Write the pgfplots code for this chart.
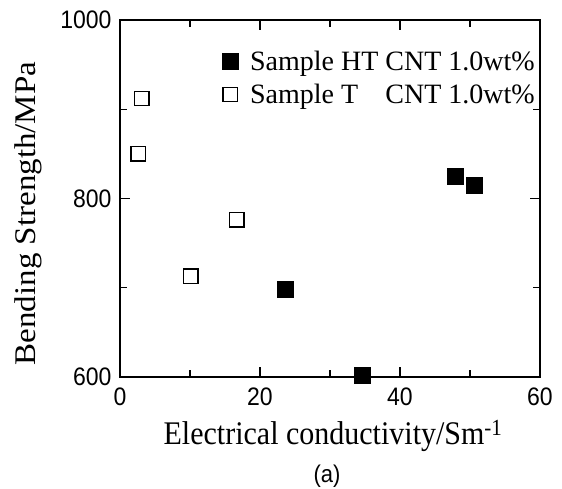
\documentclass[border=0pt]{standalone}
\usepackage{pgfplots}
\pgfplotsset{compat=1.18}
\usepackage{fontspec}
\setmainfont{Liberation Serif}
\newfontfamily\arial{Liberation Sans}
\begin{document}
\begin{tikzpicture}
\begin{axis}[
  scale only axis,
  width=420pt, height=357pt,
  xmin=0, xmax=60, ymin=600, ymax=1000,
  xtick={0,20,40,60}, ytick={600,800,1000},
  minor xtick={10,30,50}, minor ytick={700,900},
  tick align=inside,
  major tick length=10pt, minor tick length=7pt,
  axis line style={line width=1.3pt},
  every tick/.style={line width=1.2pt, black},
  /pgf/number format/assume math mode=true,
  /pgf/number format/1000 sep={},
  ticklabel style={font=\arial\fontsize{23}{23}\selectfont, yscale=1.1},
  xticklabel style={yshift=-6pt},
  yticklabel style={xshift=-5pt},
  xlabel={Electrical conductivity/Sm\textsuperscript{-1}},
  ylabel={Bending Strength/MPa},
  xlabel style={font=\fontsize{30}{31}\selectfont, at={(axis description cs:0.5,0)},
    anchor=base, yshift=-68pt, xshift=3pt, yscale=1.1},
  ylabel style={font=\fontsize{30}{31}\selectfont, at={(axis description cs:0,0.5)},
    anchor=base, xshift=-15pt, yshift=84pt, xscale=1.1},
  legend style={draw=none, fill=none, at={(1,0.925)}, anchor=north east,
    font=\fontsize{28}{29}\selectfont, row sep=8pt,
    /tikz/every odd column/.append style={column sep=10pt}},
  legend cell align=left,
  clip=false,
]
\addplot[only marks, mark=square*, mark size=8pt, black] coordinates {
  (23.6,698) (34.6,602) (47.9,825) (50.6,815)
};
\addlegendentry{Sample HT CNT 1.0wt\%}
\addplot[only marks, mark=square, mark size=7.2pt, black, line width=1.3pt] coordinates {
  (2.6,850) (3.1,912) (10.1,713) (16.7,776)
};
\addlegendentry{Sample T\hphantom{H} CNT 1.0wt\%}
\node[font=\arial\fontsize{22}{22}\selectfont, yshift=-99pt, xshift=-3pt, yscale=1.1] at (rel axis cs:0.5,0) {(a)};
\end{axis}
\pgfresetboundingbox
\path[use as bounding box] (-120pt,-112pt) rectangle (442pt,377pt);
\end{tikzpicture}
\end{document}
